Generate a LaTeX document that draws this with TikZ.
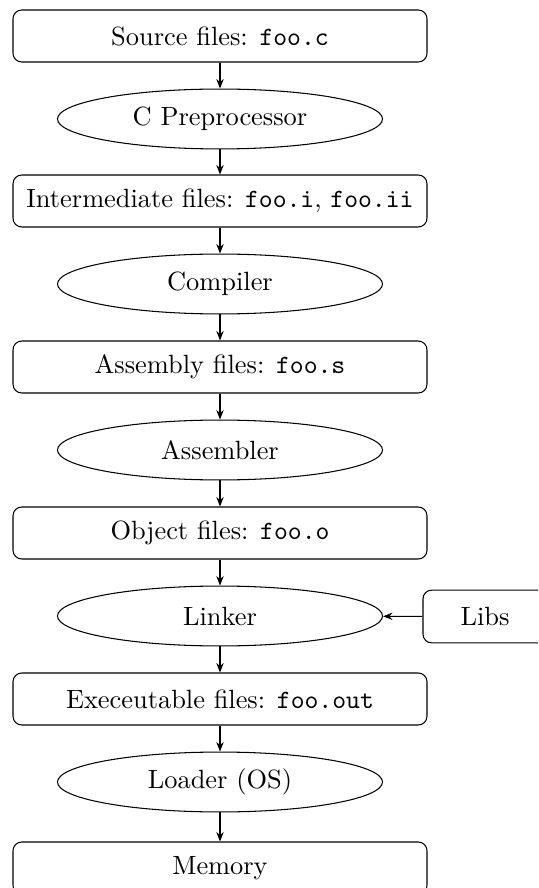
\documentclass[tikz,border=0pt]{standalone}
\usetikzlibrary{shapes.geometric,arrows.meta}
\begin{document}
\begin{tikzpicture}[x=0.379pt,y=-0.379pt,line width=0.4pt,
  filebox/.style={draw,rounded corners=3.3pt,minimum width=156.9pt,minimum height=19.7pt,inner sep=2pt},
  proc/.style={draw,ellipse,minimum width=123.2pt,minimum height=22.7pt,inner sep=1pt},
  flow/.style={-{Stealth[length=3.6pt,width=2.8pt]}}]
\useasboundingbox (0,0) rectangle (538,888);
\clip (0,0) rectangle (538,888);
\node[filebox] (src) at (220,36) {Source files: \texttt{foo.c}};
\node[proc] (cpp) at (220,119) {C Preprocessor};
\node[filebox] (inter) at (220,201) {Intermediate files: \texttt{foo.i}, \texttt{foo.ii}};
\node[proc] (comp) at (220,284) {Compiler};
\node[filebox] (asmf) at (220,367) {Assembly files: \texttt{foo.s}};
\node[proc] (asm) at (220,450) {Assembler};
\node[filebox] (obj) at (220,533) {Object files: \texttt{foo.o}};
\node[proc] (link) at (220,616) {Linker};
\node[draw,rounded corners=3.3pt,minimum width=47pt,minimum height=20pt] (libs) at (485,616.5) {Libs};
\node[filebox] (exe) at (220,699) {Execeutable files: \texttt{foo.out}};
\node[proc] (load) at (220,782) {Loader (OS)};
\node[filebox] (mem) at (220,868) {Memory};
\draw[flow] (src) -- (cpp);
\draw[flow] (cpp) -- (inter);
\draw[flow] (inter) -- (comp);
\draw[flow] (comp) -- (asmf);
\draw[flow] (asmf) -- (asm);
\draw[flow] (asm) -- (obj);
\draw[flow] (obj) -- (link);
\draw[flow] (libs) -- (link);
\draw[flow] (link) -- (exe);
\draw[flow] (exe) -- (load);
\draw[flow] (load) -- (mem);
\end{tikzpicture}
\end{document}
